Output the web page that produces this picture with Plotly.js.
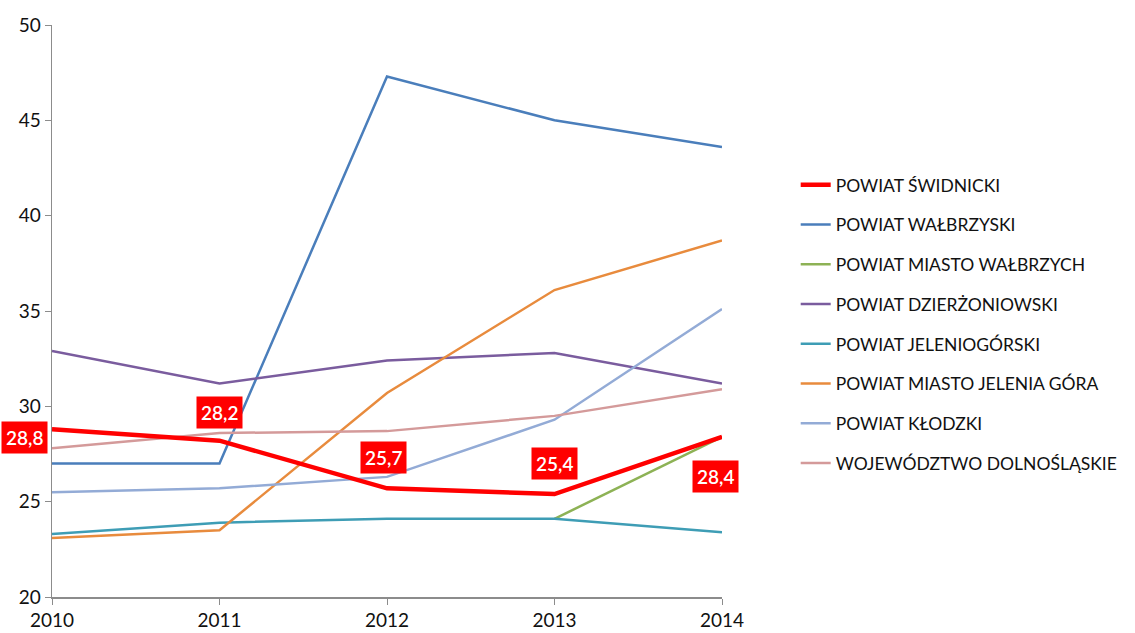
<!DOCTYPE html>
<html>
<head>
<meta charset="utf-8">
<script src="https://cdn.plot.ly/plotly-3.0.1.min.js"></script>
<style>html,body{margin:0;padding:0;background:#fff;}#chart{width:1135px;height:633px;}</style>
</head>
<body>
<div id="chart"></div>
<script>
const years = [2010, 2011, 2012, 2013, 2014];
const seriesNames = [
  "POWIAT ŚWIDNICKI",
  "POWIAT WAŁBRZYSKI",
  "POWIAT MIASTO WAŁBRZYCH",
  "POWIAT DZIERŻONIOWSKI",
  "POWIAT JELENIOGÓRSKI",
  "POWIAT MIASTO JELENIA GÓRA",
  "POWIAT KŁODZKI",
  "WOJEWÓDZTWO DOLNOŚLĄSKIE"
];
const swidnicki = [28.8, 28.2, 25.7, 25.4, 28.4];
const walbrzyski = [27.0, 27.0, 47.3, 45.0, 43.6];
const miastoWalbrzych = [null, null, null, 24.1, 28.4];
const dzierzoniowski = [32.9, 31.2, 32.4, 32.8, 31.2];
const jeleniogorski = [23.3, 23.9, 24.1, 24.1, 23.4];
const miastoJeleniaGora = [23.1, 23.5, 30.7, 36.1, 38.7];
const klodzki = [25.5, 25.7, 26.3, 29.3, 35.1];
const wojewodztwo = [27.8, 28.6, 28.7, 29.5, 30.9];
const swidnickiLabels = ["28,8", "28,2", "25,7", "25,4", "28,4"];

const seriesValues = [swidnicki, walbrzyski, miastoWalbrzych, dzierzoniowski, jeleniogorski, miastoJeleniaGora, klodzki, wojewodztwo];
const colors = ["#FF0000", "#4A7EBB", "#8DB255", "#7A5C9E", "#3E9DB5", "#E88B3D", "#93ABD6", "#D49A9A"];
const widths = [4.5, 2.5, 2.5, 2.5, 2.5, 2.5, 2.5, 2.5];

// draw order: red on top
const drawOrder = [1, 2, 3, 4, 5, 6, 7, 0];
const traces = drawOrder.map(i => ({
  x: years,
  y: seriesValues[i],
  type: "scatter",
  mode: "lines",
  name: seriesNames[i],
  line: {color: colors[i], width: widths[i]},
  legendrank: i + 1,
  legendgroup: "g" + i,
  connectgaps: false,
  hoverinfo: "skip"
}));

const labelShifts = [[-28, -8], [0, 28], [-4, 31], [0, 31], [-7, -40]];
const annotations = years.map((yr, k) => ({
  x: yr, y: swidnicki[k], xref: "x", yref: "y",
  text: swidnickiLabels[k],
  showarrow: false,
  xshift: labelShifts[k][0], yshift: labelShifts[k][1],
  bgcolor: "#FF0000",
  borderpad: 4,
  font: {family: "Lato, 'Open Sans', sans-serif", size: 19, color: "#FFFFFF", weight: 600}
}));

const layout = {
  width: 1135, height: 633,
  margin: {l: 52, r: 413, t: 25, b: 36},
  paper_bgcolor: "#FFFFFF", plot_bgcolor: "#FFFFFF",
  font: {family: "Lato, 'Open Sans', sans-serif", size: 18, color: "#111111"},
  showlegend: true,
  legend: {
    x: 1.11, xanchor: "left", y: 0.752, yanchor: "top",
    traceorder: "grouped", tracegroupgap: 14,
    font: {size: 17.5, color: "#111111"},
    bgcolor: "rgba(0,0,0,0)"
  },
  xaxis: {
    range: [2010, 2014], tickmode: "array", tickvals: years, ticktext: years.map(String),
    showgrid: false, zeroline: false, showline: true, linecolor: "#8c8c8c", linewidth: 1.5,
    ticks: "outside", ticklen: 6, tickcolor: "#8c8c8c", tickfont: {size: 19}
  },
  yaxis: {
    range: [20, 50], dtick: 5, tick0: 20,
    showgrid: false, zeroline: false, showline: true, linecolor: "#8c8c8c", linewidth: 1.5,
    ticks: "outside", ticklen: 6, tickcolor: "#8c8c8c", tickfont: {size: 19}
  },
  annotations: annotations
};

Plotly.newPlot("chart", traces, layout, {displayModeBar: false, staticPlot: true});
</script>
</body>
</html>
